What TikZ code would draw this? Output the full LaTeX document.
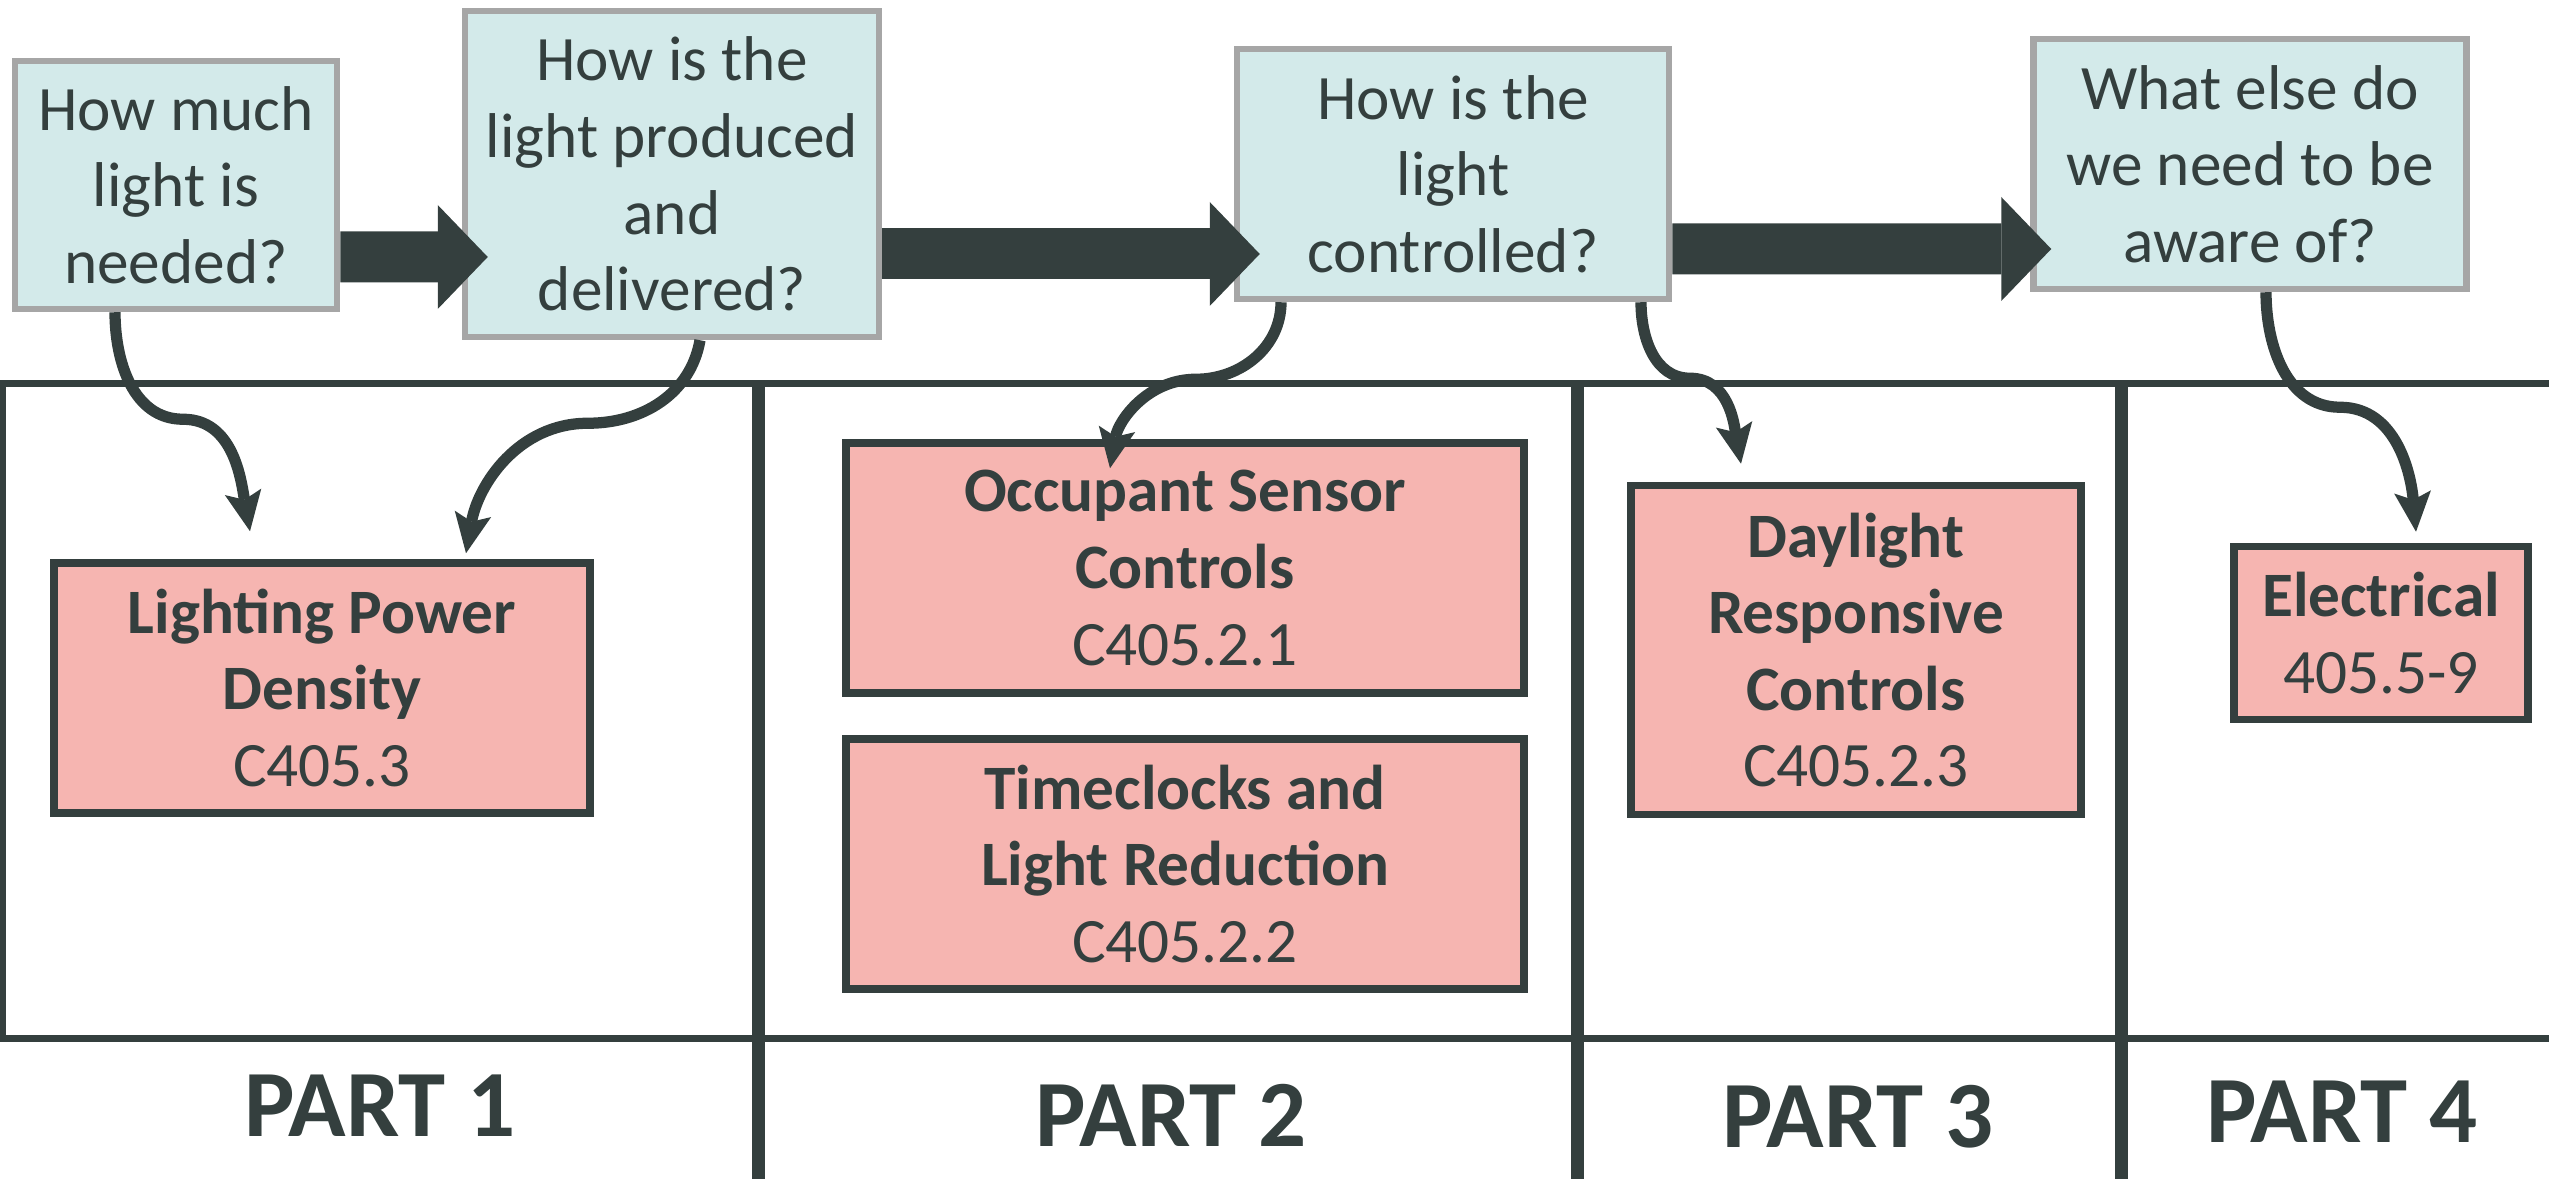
\documentclass[tikz,border=0pt]{standalone}
\usepackage{fontspec}
\setmainfont{Carlito}
\usetikzlibrary{shapes.geometric, arrows.meta, positioning}
\definecolor{darkslate}{HTML}{343F3E}
\definecolor{qfill}{HTML}{D3EAEA}
\definecolor{qborder}{HTML}{A6A6A6}
\definecolor{rfill}{HTML}{F6B5B1}
\tikzstyle{question} = [rectangle, align=center, inner sep=0pt, draw=qborder, line width=0.065cm, fill=qfill, text=darkslate, font=\fontsize{18}{21.8}\selectfont]
\tikzstyle{topic} = [rectangle, align=center, inner sep=0pt, draw=darkslate, line width=0.075cm, fill=rfill, text=darkslate, font=\fontsize{18}{21.8}\selectfont]
\tikzstyle{partlabel} = [text=darkslate, font=\fontsize{27}{32}\selectfont\bfseries]
\tikzstyle{bigarrow} = [draw=darkslate, line width=0.51cm, -{Triangle[length=0.5cm, width=1.04cm, line width=0pt]}]
\tikzstyle{curvearrow} = [draw=darkslate, line width=3.2pt, -{Stealth[length=0.40cm, width=0.37cm, inset=0.08cm, line width=0pt]}]
\tikzstyle{frameline} = [draw=darkslate, line width=0.07cm]
\tikzstyle{divider} = [draw=darkslate, line width=0.13cm]

\begin{document}
\begin{tikzpicture}[node distance=2cm]
        \useasboundingbox (0,0) rectangle (25.49,-11.79);

        % Table
        \draw [frameline] (0,-3.84) -- (25.49,-3.84);
        \draw [frameline] (0,-10.38) -- (25.49,-10.38);
        \draw [frameline, line width=0.05cm] (0.03,-3.84) -- (0.03,-10.38);
        \draw [divider] (7.58,-3.84) -- (7.58,-11.79);
        \draw [divider] (15.77,-3.84) -- (15.77,-11.79);
        \draw [divider] (21.21,-3.84) -- (21.21,-11.79);

        \node (q1) [question, minimum width=3.22cm, minimum height=2.48cm] at (1.76,-1.85) {How much\\light is\\needed?};
        \node (q2) [question, right of=q1, xshift=2.96cm, yshift=0.11cm, minimum width=4.14cm, minimum height=3.26cm] {How is the\\light produced\\and\\delivered?};
        \node (q3) [question, right of=q2, xshift=5.81cm, minimum width=4.32cm, minimum height=2.50cm] {How is the\\light\\controlled?};
        \node (q4) [question, right of=q3, xshift=5.97cm, yshift=0.10cm, minimum width=4.33cm, minimum height=2.50cm] {What else do\\we need to be\\aware of?};

        \node (r1) [topic, below of=q1, xshift=1.46cm, yshift=-3.03cm, minimum width=5.36cm, minimum height=2.50cm] {\textbf{Lighting Power}\\\textbf{Density}\\C405.3};
        \node (r2) [topic, below of=q2, xshift=5.13cm, yshift=-1.94cm, minimum width=6.78cm, minimum height=2.50cm] {\textbf{Occupant Sensor}\\\textbf{Controls}\\C405.2.1};
        \node (r3) [topic, below of=r2, yshift=-0.96cm, minimum width=6.78cm, minimum height=2.50cm] {\textbf{Timeclocks and}\\\textbf{Light Reduction}\\C405.2.2};
        \node (r4) [topic, below of=q3, xshift=4.03cm, yshift=-2.76cm, minimum width=4.50cm, minimum height=3.29cm] {\textbf{Daylight}\\\textbf{Responsive}\\\textbf{Controls}\\C405.2.3};
        \node (r5) [topic, below of=q4, xshift=1.31cm, yshift=-2.69cm, minimum width=2.94cm, minimum height=1.73cm] {\textbf{Electrical}\\405.5-9};

        \node (p1) [partlabel, below of=r1, xshift=0.58cm, yshift=-2.18cm] {PART 1};
        \node (p2) [partlabel, below of=r3, xshift=-0.14cm, yshift=-0.51cm] {PART 2};
        \node (p3) [partlabel, below of=r4, xshift=0.02cm, yshift=-2.67cm] {PART 3};
        \node (p4) [partlabel, below of=r5, xshift=-0.39cm, yshift=-2.79cm] {PART 4};

        % Arrows
        \draw [bigarrow] ([yshift=-0.72cm]q1.east) -- ([xshift=0.26cm, yshift=-0.83cm]q2.west);
        \draw [bigarrow] ([yshift=-0.80cm]q2.east) -- ([xshift=0.26cm, yshift=-0.80cm]q3.west);
        \draw [bigarrow] ([yshift=-0.75cm]q3.east) -- ([xshift=0.21cm, yshift=-0.85cm]q4.west);

        \draw [curvearrow] ([xshift=-0.61cm]q1.south) to[out=-90, in=180] ++(0.68,-1.07) to[out=0, in=100] ([xshift=-0.72cm, yshift=0.28cm]r1.north);
        \draw [curvearrow] ([xshift=0.28cm]q2.south) to[out=-100, in=0] ++(-1.12,-0.83) to[out=180, in=80] ([xshift=1.44cm, yshift=0.06cm]r1.north);
        \draw [curvearrow] ([xshift=-1.72cm]q3.south) to[out=-90, in=0] ++(-0.85,-0.77) to[out=180, in=80] ([xshift=-0.75cm, yshift=-0.29cm]r2.north);
        \draw [curvearrow] ([xshift=1.88cm]q3.south) to[out=-90, in=180] ++(0.49,-0.76) to[out=0, in=100] ([xshift=-1.15cm, yshift=0.18cm]r4.north);
        \draw [curvearrow] ([xshift=0.16cm]q4.south) to[out=-90, in=180] ++(0.74,-1.15) to[out=0, in=95] ([xshift=0.35cm, yshift=0.11cm]r5.north);

\end{tikzpicture}
\end{document}
